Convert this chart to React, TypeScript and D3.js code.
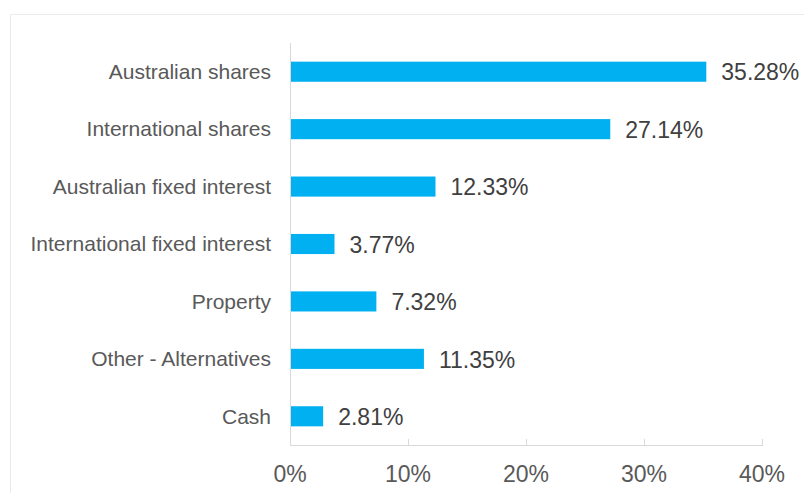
import React, { useRef, useEffect } from "react";
import * as d3 from "d3";

const categories = [
  "Australian shares",
  "International shares",
  "Australian fixed interest",
  "International fixed interest",
  "Property",
  "Other - Alternatives",
  "Cash",
];
const values = [35.28, 27.14, 12.33, 3.77, 7.32, 11.35, 2.81];
const ticks = [0, 10, 20, 30, 40];

const W = 804;
const H = 493;

const App: React.FC = () => {
  const svgRef = useRef<SVGSVGElement | null>(null);

  useEffect(() => {
    if (!svgRef.current) return;
    const svg = d3.select(svgRef.current);
    svg.selectAll("*").remove();

    const font = "'Liberation Sans', Arial, sans-serif";
    const left = 290;
    const right = 762;
    const top = 43;
    const bottom = 445;

    // outer frame
    svg
      .append("rect")
      .attr("x", 10.5)
      .attr("y", 14.5)
      .attr("width", W)
      .attr("height", H)
      .attr("fill", "#fff")
      .attr("stroke", "#ebebeb");

    const x = d3.scaleLinear().domain([0, 40]).range([left, right]);
    const y = d3
      .scaleBand()
      .domain(categories)
      .range([top, bottom])
      .paddingInner(0.65)
      .paddingOuter(0.325);

    const rows = categories.map((c, i) => ({ label: c, value: values[i] }));

    // axis lines
    svg
      .append("line")
      .attr("x1", left + 0.5)
      .attr("x2", left + 0.5)
      .attr("y1", top)
      .attr("y2", bottom)
      .attr("stroke", "#d9d9d9");
    svg
      .append("line")
      .attr("x1", left)
      .attr("x2", right + 1)
      .attr("y1", bottom + 0.5)
      .attr("y2", bottom + 0.5)
      .attr("stroke", "#d9d9d9");

    svg
      .selectAll(".tick")
      .data(ticks.slice(1))
      .enter()
      .append("line")
      .attr("class", "tick")
      .attr("x1", (d) => Math.round(x(d)) + 0.5)
      .attr("x2", (d) => Math.round(x(d)) + 0.5)
      .attr("y1", bottom - 6)
      .attr("y2", bottom)
      .attr("stroke", "#d9d9d9");

    svg
      .selectAll(".ticklabel")
      .data(ticks)
      .enter()
      .append("text")
      .attr("class", "ticklabel")
      .attr("x", (d) => x(d))
      .attr("y", 482)
      .attr("text-anchor", "middle")
      .attr("font-family", font)
      .attr("font-size", 23)
      .attr("fill", "#595959")
      .text((d) => d + "%");

    svg
      .selectAll(".bar")
      .data(rows)
      .enter()
      .append("rect")
      .attr("class", "bar")
      .attr("x", x(0) + 1)
      .attr("y", (d) => y(d.label)!)
      .attr("width", (d) => x(d.value) - x(0) - 1)
      .attr("height", y.bandwidth())
      .attr("fill", "#00b0f0");

    svg
      .selectAll(".cat")
      .data(rows)
      .enter()
      .append("text")
      .attr("class", "cat")
      .attr("x", 271)
      .attr("y", (d) => y(d.label)! + y.bandwidth() / 2)
      .attr("dy", "0.35em")
      .attr("text-anchor", "end")
      .attr("font-family", font)
      .attr("font-size", 21)
      .attr("fill", "#595959")
      .text((d) => d.label);

    svg
      .selectAll(".val")
      .data(rows)
      .enter()
      .append("text")
      .attr("class", "val")
      .attr("x", (d) => x(d.value) + 15)
      .attr("y", (d) => y(d.label)! + y.bandwidth() / 2)
      .attr("dy", "0.38em")
      .attr("font-family", font)
      .attr("font-size", 23)
      .attr("fill", "#404040")
      .text((d) => d.value.toFixed(2) + "%");
  }, []);

  return (
    <div style={{ position: "absolute", left: 0, top: 0 }}>
      <svg ref={svgRef} width={W} height={H} style={{ display: "block" }}></svg>
    </div>
  );
};

export default App;
